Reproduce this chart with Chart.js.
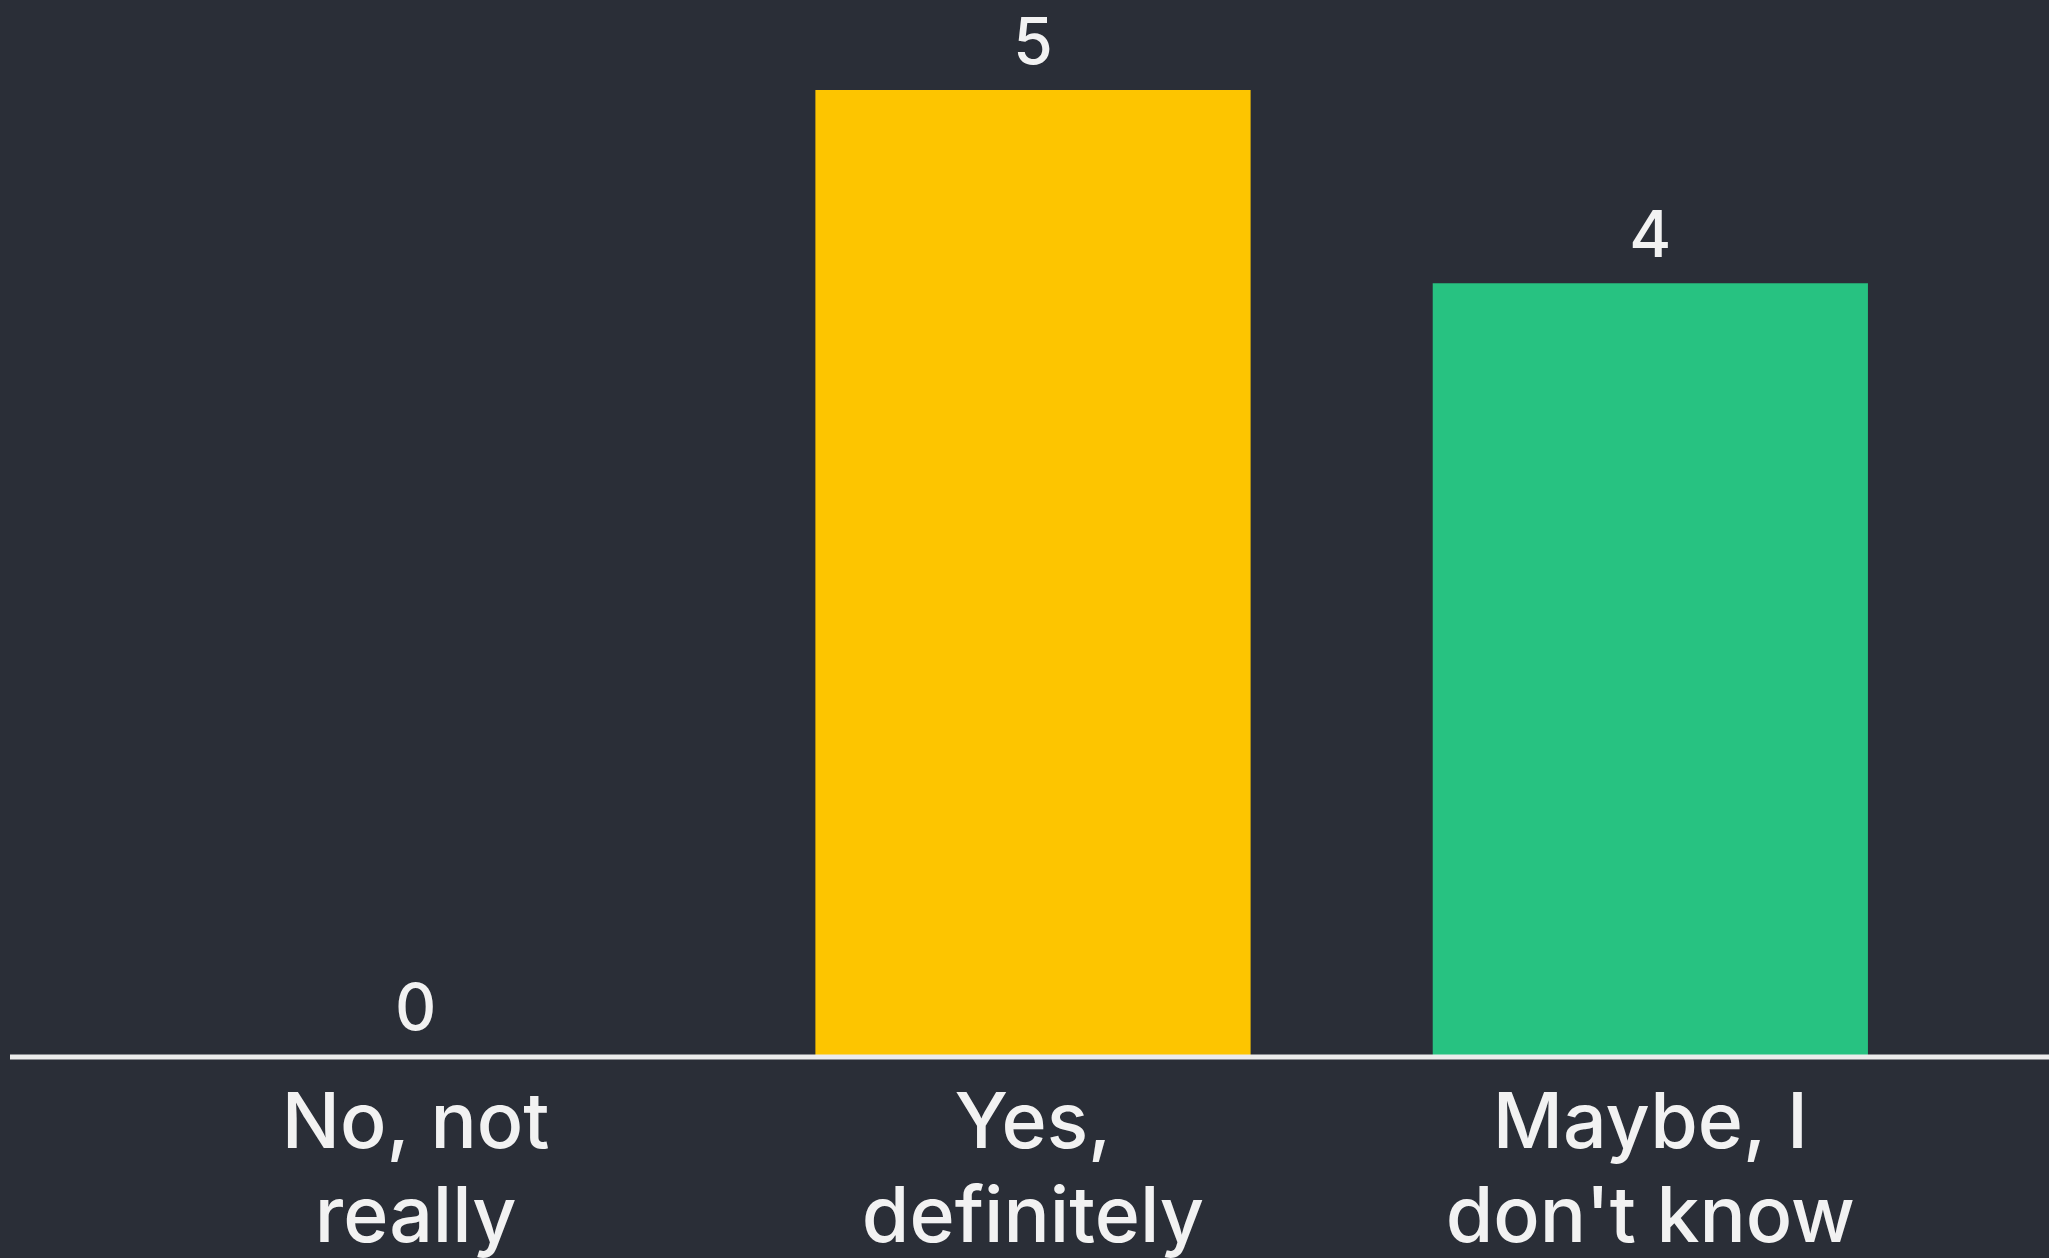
<!DOCTYPE html>
<html>
<head>
<meta charset="utf-8">
<script src="https://cdn.jsdelivr.net/npm/chart.js@4.4.0/dist/chart.umd.min.js"></script>
<style>
html, body { margin: 0; padding: 0; background: #2a2e37; }
#wrap { width: 2049px; height: 1258px; }
</style>
</head>
<body>
<div id="wrap"><canvas id="voteChart" width="2049" height="1258"></canvas></div>
<script>
const categories = [["No, not", "really"], ["Yes,", "definitely"], ["Maybe, I", "don't know"]];
const votes = [0, 5, 4];
const barColors = ["#5b6ce8", "#fdc500", "#27c281"];

// white baseline across the whole width
const baseLine = {
    id: "baseLine",
    afterDatasetsDraw(chart) {
        const ctx = chart.ctx;
        const y = chart.scales.y.getPixelForValue(0);
        ctx.save();
        ctx.strokeStyle = "#ececec";
        ctx.lineWidth = 5;
        ctx.beginPath();
        ctx.moveTo(10, y + 1);
        ctx.lineTo(chart.width, y + 1);
        ctx.stroke();
        ctx.restore();
    }
};

// vote counts above each bar
const valueLabels = {
    id: "valueLabels",
    afterDatasetsDraw(chart) {
        const ctx = chart.ctx;
        const meta = chart.getDatasetMeta(0);
        ctx.save();
        ctx.fillStyle = "#f2f2f2";
        ctx.font = "500 64px Inter";
        ctx.textAlign = "center";
        ctx.textBaseline = "middle";
        meta.data.forEach((bar, i) => {
            ctx.fillText(String(votes[i]), bar.x, bar.y - 45);
        });
        ctx.restore();
    }
};

new Chart(document.getElementById("voteChart"), {
    type: "bar",
    data: {
        labels: categories,
        datasets: [{
            data: votes,
            backgroundColor: barColors,
            borderWidth: 0,
            barPercentage: 0.705,
            categoryPercentage: 1
        }]
    },
    options: {
        responsive: false,
        animation: false,
        devicePixelRatio: 1,
        layout: {
            padding: { top: 90, left: 107, right: 90, bottom: 0 }
        },
        plugins: {
            legend: { display: false },
            tooltip: { enabled: false }
        },
        scales: {
            x: {
                grid: { display: false, drawTicks: false },
                border: { display: false },
                ticks: {
                    color: "#f2f2f2",
                    font: { family: "Inter", size: 77, weight: "500", lineHeight: 1.22 },
                    padding: 22,
                    maxRotation: 0,
                    autoSkip: false
                },
                afterFit(scale) {
                    scale.height = 202;
                }
            },
            y: {
                display: false,
                min: 0,
                max: 5
            }
        }
    },
    plugins: [baseLine, valueLabels]
});
</script>
</body>
</html>
